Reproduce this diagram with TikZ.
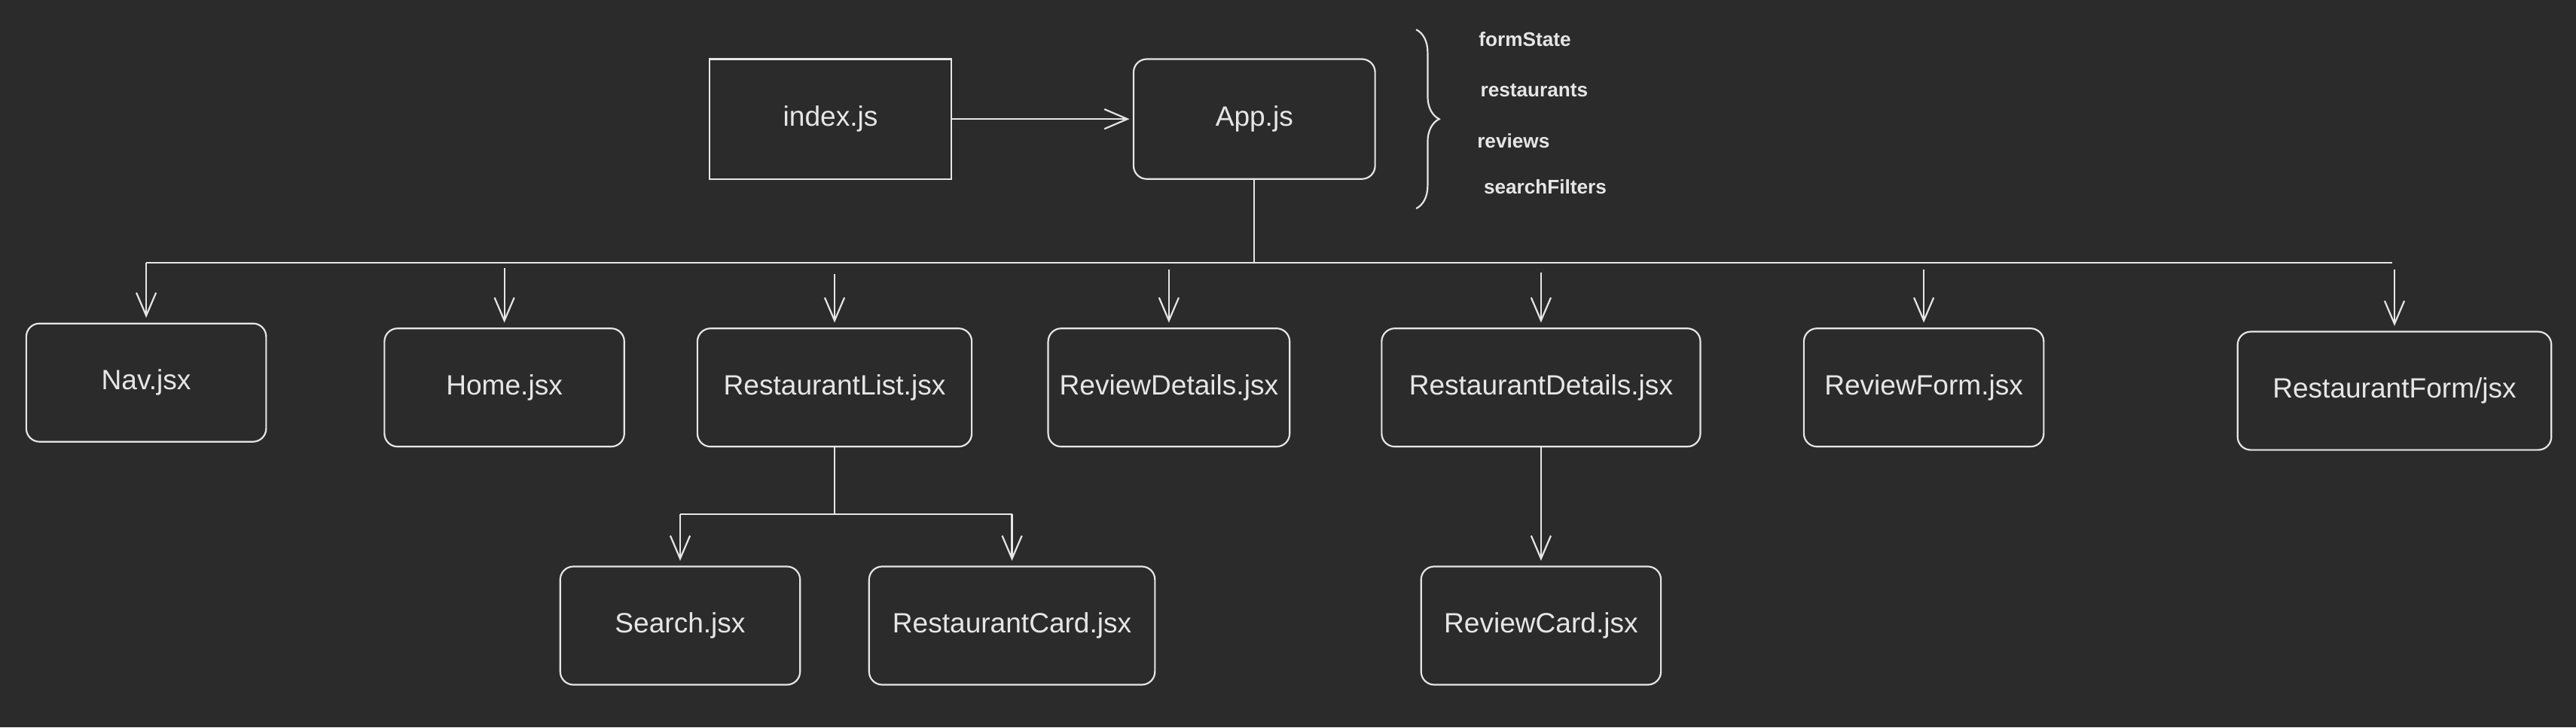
\documentclass[tikz,border=0pt]{standalone}
\usepackage{fontspec}
\setmainfont{Liberation Sans}
\usetikzlibrary{arrows.meta,decorations.pathreplacing}
\definecolor{bg}{HTML}{2B2B2B}
\definecolor{ink}{HTML}{E6E6E6}
\tikzstyle{arrow} = [draw=ink,line width=1pt,-{Straight Barb[length=14pt,width=12pt]},shorten >=3pt]
\tikzstyle{wire} = [draw=ink,line width=1pt]
\tikzstyle{filebox} = [draw=ink,line width=1pt,rounded corners=8pt,text=ink,minimum width=146pt,minimum height=72pt,inner sep=0pt,font=\fontsize{17}{20}\selectfont]
\tikzstyle{statevar} = [text=ink,anchor=west,inner sep=0pt,font=\fontsize{12}{14}\selectfont\bfseries]

\begin{document}
\begin{tikzpicture}[x=1pt,y=-1pt]
  \fill[bg] (0,0) rectangle (1568,443);
  % top row
  \node[filebox,sharp corners,minimum width=147pt,minimum height=73pt] (index) at (505.5,72.5) {index.js};
  \node[filebox,minimum width=147pt,minimum height=73pt] (app) at (763.5,72.5) {App.js};
  \draw [arrow,shorten >=2pt] (index) -- (app);
  % state held in App
  \draw[ink,line width=1pt,decorate,decoration={brace,amplitude=14pt}] (862,18) -- (862,127);
  \node[statevar] (formstate) at (900,24) {formState};
  \node[statevar] (restaurants) at (901,55) {restaurants};
  \node[statevar] (reviews) at (899,86) {reviews};
  \node[statevar] (filters) at (903,114) {searchFilters};
  % components
  \node[filebox] (nav) at (89,233) {Nav.jsx};
  \node[filebox] (home) at (307,236) {Home.jsx};
  \node[filebox,minimum width=167pt] (rlist) at (508,236) {RestaurantList.jsx};
  \node[filebox,minimum width=147pt] (rvdetails) at (711.5,236) {ReviewDetails.jsx};
  \node[filebox,minimum width=194pt] (rdetails) at (938,236) {RestaurantDetails.jsx};
  \node[filebox] (rvform) at (1171,236) {ReviewForm.jsx};
  \node[filebox,minimum width=191pt] (rform) at (1457.5,238) {RestaurantForm/jsx};
  \node[filebox] (search) at (414,381) {Search.jsx};
  \node[filebox,minimum width=174pt] (rcard) at (616,381) {RestaurantCard.jsx};
  \node[filebox] (rvcard) at (938,381) {ReviewCard.jsx};
  % App fans out
  \coordinate (bus) at (763.5,160);
  \coordinate (busL) at (89,160);
  \coordinate (busR) at (1456,160);
  \draw [wire] (app) -- (bus);
  \draw [wire] (busL) -- (busR);
  \draw [arrow] (busL) -- (nav);
  \coordinate (toHome) at (307,163);
  \coordinate (toList) at (508,167);
  \coordinate (toRvDetails) at (711.5,164);
  \coordinate (toDetails) at (938,166);
  \coordinate (toRvForm) at (1171,164);
  \coordinate (toForm) at (1457.5,164);
  \draw [arrow] (toHome) -- (home);
  \draw [arrow] (toList) -- (rlist);
  \draw [arrow] (toRvDetails) -- (rvdetails);
  \draw [arrow] (toDetails) -- (rdetails);
  \draw [arrow] (toRvForm) -- (rvform);
  \draw [arrow] (toForm) -- (rform);
  % list children
  \coordinate (split) at (508,313);
  \coordinate (splitL) at (414,313);
  \coordinate (splitR) at (616,313);
  \draw [wire] (rlist) -- (split);
  \draw [wire] (splitL) -- (splitR);
  \draw [arrow] (splitL) -- (search);
  \draw [arrow] (splitR) -- (rcard);
  \draw [arrow] (rdetails) -- (rvcard);
\end{tikzpicture}
\end{document}
